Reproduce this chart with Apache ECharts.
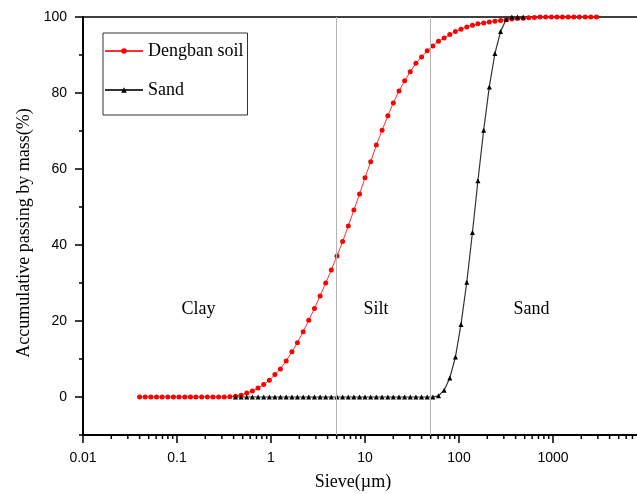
<!DOCTYPE html>
<html>
<head>
<meta charset="utf-8">
<title>Accumulative passing by mass</title>
<script src="https://cdn.jsdelivr.net/npm/echarts@6/dist/echarts.min.js"></script>
<style>
  body { margin: 0; background: #fff; }
  #chart { width: 637px; height: 494px; }
</style>
</head>
<body>
<div id="chart"></div>
<script>
// particle sizes (µm) of the measured points, Dengban soil curve
const sizes = [
  0.0400, 0.0459, 0.0527, 0.0605, 0.0695, 0.0798, 0.0916, 0.105, 0.121, 0.139,
  0.159, 0.183, 0.210, 0.241, 0.277, 0.318, 0.365, 0.419, 0.481, 0.552,
  0.634, 0.728, 0.836, 0.960, 1.10, 1.26, 1.45, 1.67, 1.91, 2.20,
  2.52, 2.90, 3.33, 3.82, 4.38, 5.03, 5.78, 6.64, 7.62, 8.75,
  10.0, 11.5, 13.2, 15.2, 17.5, 20.0, 23.0, 26.4, 30.3, 34.8,
  40.0, 45.9, 52.7, 60.5, 69.5, 79.8, 91.6, 105, 121, 139,
  159, 183, 210, 241, 277, 318, 365, 419, 481, 552,
  634, 728, 836, 960, 1100, 1260, 1450, 1670, 1910, 2200,
  2520, 2900
];
// % passing, Dengban soil
const dengbanSoil = [
  0, 0, 0, 0, 0, 0, 0, 0, 0, 0,
  0, 0, 0, 0, 0, 0, 0.05, 0.2, 0.45, 1.05,
  1.6, 2.4, 3.3, 4.4, 5.9, 7.4, 9.5, 11.9, 14.3, 17.2,
  20.2, 23.3, 26.6, 30.0, 33.4, 37.1, 40.9, 45.0, 49.2, 53.4,
  57.7, 61.9, 66.3, 70.2, 74.0, 77.4, 80.5, 83.2, 85.6, 87.8,
  89.5, 91.1, 92.4, 93.6, 94.5, 95.4, 96.2, 96.8, 97.4, 97.8,
  98.2, 98.4, 98.7, 98.9, 99.1, 99.3, 99.5, 99.6, 99.7, 99.8,
  99.9, 100, 100, 100, 100, 100, 100, 100, 100, 100,
  100, 100
];
// sand curve: sizes and % passing
const sandSizes = [
  0.419, 0.481, 0.552, 0.634, 0.728, 0.836, 0.960, 1.10, 1.26, 1.45,
  1.67, 1.91, 2.20, 2.52, 2.90, 3.33, 3.82, 4.38, 5.03, 5.78,
  6.64, 7.62, 8.75, 10.0, 11.5, 13.2, 15.2, 17.5, 20.0, 23.0,
  26.4, 30.3, 34.8, 40.0, 45.9, 52.7, 60.5, 69.5, 79.8, 91.6,
  105, 121, 139, 159, 183, 210, 241, 277, 318, 365,
  419, 481
];
const sand = [
  0, 0, 0, 0, 0, 0, 0, 0, 0, 0,
  0, 0, 0, 0, 0, 0, 0, 0, 0, 0,
  0, 0, 0, 0, 0, 0, 0, 0, 0, 0,
  0, 0, 0, 0, 0, 0, 0.3, 1.8, 5.0, 10.5,
  19.1, 30.2, 43.3, 56.9, 70.2, 81.6, 90.4, 96.2, 99.4, 100,
  100, 100
];
// boundaries clay/silt and silt/sand (µm)
const boundaries = [5, 50];
const zoneNames = ['Clay', 'Silt', 'Sand'];
const zoneX = [0.169, 13.1, 590];
const zoneY = [23.1, 23.1, 23.1];
// minor ticks of the log axis
const tickDecades = [0.01, 0.1, 1, 10, 100, 1000];
const tickSteps = [2, 3, 4, 5, 6, 7, 8, 9];

const serif = '"Liberation Serif", "DejaVu Serif", serif';
const sansFont = '"Liberation Sans", Arial, sans-serif';

const minorTicks = [];
tickDecades.forEach(function (d) {
  tickSteps.forEach(function (s) { minorTicks.push([Number((d * s).toPrecision(3)), -10]); });
});

var myChart = echarts.init(document.getElementById('chart'));
var option = {
  animation: false,
  backgroundColor: '#fff',
  grid: [
    { left: 83, width: 564, top: 17, bottom: 59, show: true, borderColor: '#000', borderWidth: 1.5, outerBoundsMode: 'none' },
    { left: 83, width: 564, top: 17, bottom: 97, outerBoundsMode: 'none' }
  ],
  legend: {
    data: ['Dengban soil', 'Sand'],
    orient: 'vertical',
    left: 103,
    top: 33,
    padding: [9, 4, 16, 1],
    itemWidth: 38,
    itemHeight: 7,
    itemGap: 21,
    borderColor: '#333',
    borderWidth: 1,
    textStyle: { fontFamily: serif, fontSize: 18, color: '#000' }
  },
  xAxis: [
    {
      type: 'log', logBase: 10, gridIndex: 0, min: 0.01, max: 10000,
      name: 'Sieve(µm)', nameLocation: 'middle', nameGap: 38,
      nameTextStyle: { fontFamily: serif, fontSize: 18, color: '#000', padding: [0, 24, 0, 0] },
      axisLine: { onZero: false, lineStyle: { color: '#000', width: 2 } },
      axisTick: { length: 8, lineStyle: { color: '#000', width: 1.5 } },
      axisLabel: {
        fontFamily: sansFont, fontSize: 14, color: '#000', margin: 16,
        formatter: function (v) { return v >= 10000 ? '' : String(Number(v.toPrecision(6))); }
      },
      splitLine: { show: false }
    },
    { type: 'log', logBase: 10, gridIndex: 1, min: 0.01, max: 10000, show: false }
  ],
  yAxis: [
    {
      type: 'value', gridIndex: 0, min: -10, max: 100, interval: 10,
      name: 'Accumulative passing by mass(%)', nameLocation: 'middle', nameGap: 50,
      nameTextStyle: { fontFamily: serif, fontSize: 18, color: '#000', padding: [0, 14, 0, 0] },
      axisLine: { show: true, onZero: false, lineStyle: { color: '#000', width: 2 } },
      axisTick: { length: 4, lineStyle: { color: '#000', width: 1.5 } },
      axisLabel: { show: false },
      splitLine: { show: false }
    },
    {
      type: 'value', gridIndex: 1, min: 0, max: 100, interval: 20,
      axisLine: { show: false, onZero: false },
      axisTick: { show: true, length: 8, lineStyle: { color: '#000', width: 1.5 } },
      axisLabel: { fontFamily: sansFont, fontSize: 14, color: '#000', margin: 16 },
      splitLine: { show: false }
    }
  ],
  series: [
    {
      name: 'zones',
      type: 'scatter',
      silent: true,
      symbolSize: 0,
      itemStyle: { color: '#000', opacity: 1 },
      label: {
        show: true, position: 'inside', formatter: '{b}',
        fontFamily: serif, fontSize: 18, color: '#000', textBorderWidth: 0
      },
      data: zoneNames.map(function (n, i) { return { name: n, value: [zoneX[i], zoneY[i]] }; }),
      markLine: {
        silent: true,
        symbol: ['none', 'none'],
        label: { show: false },
        lineStyle: { color: '#b4b4b4', width: 1, type: 'solid' },
        data: boundaries.map(function (b) { return { xAxis: b }; })
      }
    },
    {
      name: 'Dengban soil',
      type: 'line',
      symbol: 'circle',
      symbolSize: 5,
      color: '#ff0000',
      lineStyle: { color: '#ff3030', width: 1 },
      itemStyle: { color: '#ff0000' },
      data: sizes.map(function (s, i) { return [s, dengbanSoil[i]]; })
    },
    {
      name: 'Sand',
      type: 'line',
      symbol: 'triangle',
      symbolSize: 5,
      color: '#000',
      lineStyle: { color: '#333', width: 1.2 },
      itemStyle: { color: '#000' },
      data: sandSizes.map(function (s, i) { return [s, sand[i]]; })
    },
    {
      name: 'minorTicks',
      type: 'custom',
      silent: true,
      clip: false,
      data: minorTicks,
      renderItem: function (params, api) {
        var p = api.coord([api.value(0), api.value(1)]);
        return {
          type: 'line',
          shape: { x1: p[0], y1: p[1], x2: p[0], y2: p[1] + 4 },
          style: { stroke: '#000', lineWidth: 1.5 }
        };
      }
    }
  ]
};
myChart.setOption(option);
</script>
</body>
</html>
